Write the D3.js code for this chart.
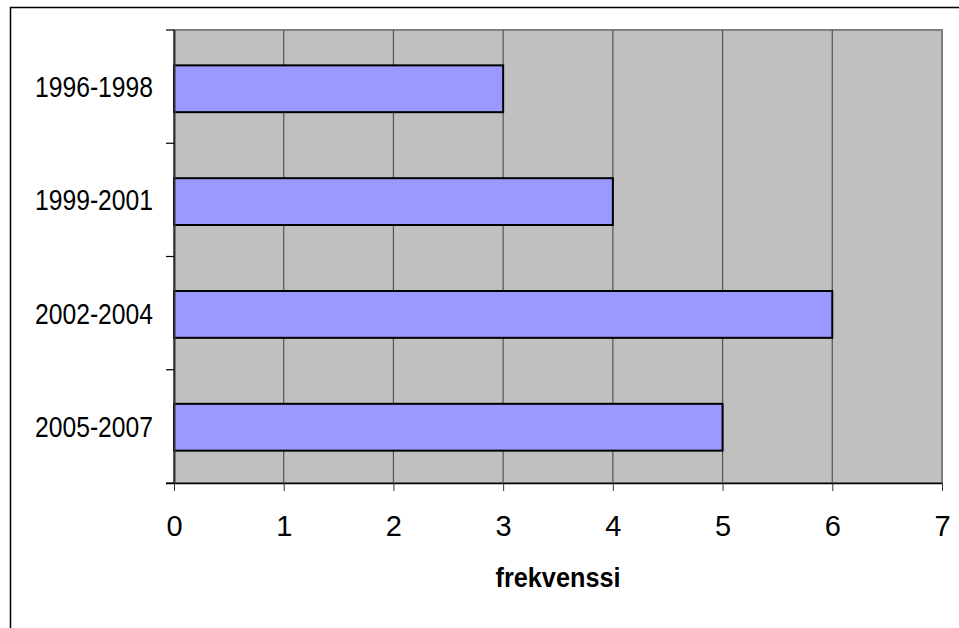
<!DOCTYPE html>
<html>
<head>
<meta charset="utf-8">
<script src="https://cdn.jsdelivr.net/npm/d3@7"></script>
<style>
  html, body { margin: 0; padding: 0; background: #fff; }
  svg { display: block; font-family: "Liberation Sans", Arial, sans-serif; }
</style>
</head>
<body>
<svg id="chart" width="959" height="628"></svg>
<script>
// Horizontal bars: frequency per three-year period
const periods = ["1996-1998", "1999-2001", "2002-2004", "2005-2007"];
const freq = [3, 4, 6, 5];
const xTicks = [0, 1, 2, 3, 4, 5, 6, 7];
const xTitle = "frekvenssi";

(function () {
    const svg = d3.select("#chart");
    const W = 959, H = 628;
    const margin = { top: 30, right: 17, bottom: 145, left: 174 };
    const iw = W - margin.left - margin.right;
    const ih = H - margin.top - margin.bottom;

    // outer chart frame (right/bottom edges fall outside the picture)
    svg.append("rect").attr("x", 10.5).attr("y", 7.5)
        .attr("width", W).attr("height", H)
        .attr("fill", "none").attr("stroke", "#000").attr("stroke-width", 1.5);

    const g = svg.append("g").attr("transform", `translate(${margin.left}, ${margin.top})`);

    const x = d3.scaleLinear().domain([0, 7]).range([0, iw]);
    const y = d3.scaleBand().domain(periods).range([1.5, ih + 1.5])
        .paddingInner(0.585).paddingOuter(0.3);
    const step = ih / periods.length;

    // plot area
    g.append("rect").attr("x", 0).attr("y", 0).attr("width", iw).attr("height", ih)
        .attr("fill", "#C0C0C0").attr("stroke", "#808080").attr("stroke-width", 2);

    // vertical gridlines
    g.selectAll("line.grid").data(xTicks.slice(1, -1)).join("line").attr("class", "grid")
        .attr("x1", d => x(d)).attr("x2", d => x(d))
        .attr("y1", 0).attr("y2", ih)
        .attr("stroke", "#555").attr("stroke-width", 1.2);

    // bars
    const rows = periods.map((p, i) => ({ p, v: freq[i] }));
    g.selectAll("rect.bar").data(rows).join("rect").attr("class", "bar")
        .attr("x", 0).attr("y", d => y(d.p))
        .attr("width", d => x(d.v)).attr("height", y.bandwidth())
        .attr("fill", "#9999FF").attr("stroke", "#000").attr("stroke-width", 2);

    // x axis
    const xAxis = g.append("g").attr("transform", `translate(0, ${ih})`)
        .call(d3.axisBottom(x).tickValues(xTicks).tickSize(8).tickPadding(24).tickFormat(d3.format("d")));
    xAxis.select(".domain").attr("stroke", "#000").attr("stroke-width", 1.5)
        .attr("d", `M-8,0.5H${iw}`);
    xAxis.selectAll(".tick line").attr("stroke", "#333");
    xAxis.selectAll("text").attr("font-size", 29).attr("fill", "#000")
        .attr("font-family", "Liberation Sans, Arial, sans-serif");

    // y axis: ticks at band boundaries
    const yb = d3.range(periods.length + 1).map(i => i * step);
    g.append("line").attr("x1", 0.5).attr("x2", 0.5).attr("y1", 0).attr("y2", ih)
        .attr("stroke", "#333").attr("stroke-width", 2);
    g.selectAll("line.ytick").data(yb).join("line").attr("class", "ytick")
        .attr("x1", -8).attr("x2", 0).attr("y1", d => d).attr("y2", d => d)
        .attr("stroke", "#000").attr("stroke-width", 1.2);
    g.selectAll("text.ylbl").data(periods).join("text").attr("class", "ylbl")
        .attr("x", -21).attr("y", (d, i) => (i + 0.5) * step)
        .attr("dy", "0.36em").attr("text-anchor", "end")
        .attr("font-size", 29).attr("fill", "#000")
        .attr("textLength", 118).attr("lengthAdjust", "spacingAndGlyphs")
        .text(d => d);

    // axis title
    svg.append("text").attr("x", margin.left + iw / 2).attr("y", 587)
        .attr("text-anchor", "middle").attr("font-size", 27).attr("font-weight", "bold")
        .attr("textLength", 125).attr("lengthAdjust", "spacingAndGlyphs")
        .text(xTitle);
})();
</script>
</body>
</html>
